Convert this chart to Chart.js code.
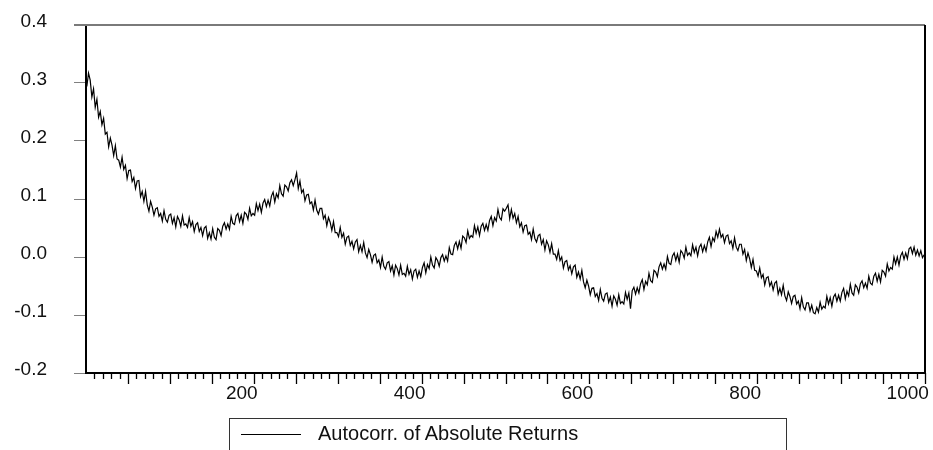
<!DOCTYPE html>
<html>
<head>
<meta charset="utf-8">
<title>Autocorr. of Absolute Returns</title>
<script src="https://cdn.jsdelivr.net/npm/chart.js@4.4.1/dist/chart.umd.min.js"></script>
<style>
    body { margin: 0; background: #fff; overflow: hidden; }
    #wrap { position: relative; width: 933px; height: 450px; }
    #legendBox {
        position: absolute; left: 229px; top: 418px; width: 558px; height: 60px;
        border: 1px solid #333; box-sizing: border-box;
        font: 20px "Liberation Sans", Arial, sans-serif; color: #111;
    }
    #legendBox .sample {
        position: absolute; left: 11px; top: 15px; width: 60px; border-top: 1px solid #000;
    }
    #legendBox .text { position: absolute; left: 88px; top: 3px; white-space: nowrap; }
</style>
</head>
<body>
<div id="wrap">
    <canvas id="acf" width="933" height="450"></canvas>
    <div id="legendBox"><span class="sample"></span><span class="text" id="legendText"></span></div>
</div>
<script>
const seriesName = 'Autocorr. of Absolute Returns';

// at every 2nd lag, starting at lag 1
const lagStep = 2;
const acfValues = [
    0.294, 0.317, 0.305, 0.276, 0.290, 0.258, 0.272, 0.241, 0.251, 0.228,
    0.239, 0.212, 0.215, 0.190, 0.205, 0.193, 0.175, 0.192, 0.169, 0.167,
    0.155, 0.172, 0.151, 0.158, 0.135, 0.149, 0.150, 0.130, 0.137, 0.118,
    0.131, 0.132, 0.104, 0.113, 0.096, 0.113, 0.090, 0.079, 0.096, 0.086,
    0.072, 0.083, 0.085, 0.070, 0.075, 0.062, 0.080, 0.065, 0.060, 0.072,
    0.074, 0.058, 0.068, 0.052, 0.070, 0.064, 0.053, 0.071, 0.055, 0.057,
    0.051, 0.068, 0.053, 0.061, 0.044, 0.056, 0.059, 0.044, 0.051, 0.037,
    0.050, 0.053, 0.032, 0.042, 0.031, 0.049, 0.034, 0.030, 0.049, 0.046,
    0.037, 0.053, 0.059, 0.048, 0.057, 0.048, 0.070, 0.058, 0.056, 0.071,
    0.075, 0.061, 0.072, 0.058, 0.077, 0.074, 0.065, 0.084, 0.071, 0.075,
    0.072, 0.092, 0.080, 0.091, 0.077, 0.093, 0.099, 0.087, 0.098, 0.088,
    0.105, 0.112, 0.095, 0.109, 0.102, 0.123, 0.109, 0.105, 0.124, 0.121,
    0.114, 0.128, 0.133, 0.123, 0.133, 0.145, 0.118, 0.131, 0.111, 0.116,
    0.097, 0.107, 0.108, 0.092, 0.095, 0.081, 0.098, 0.081, 0.074, 0.084,
    0.084, 0.066, 0.072, 0.054, 0.068, 0.060, 0.046, 0.061, 0.042, 0.042,
    0.035, 0.051, 0.034, 0.041, 0.022, 0.034, 0.036, 0.020, 0.027, 0.014,
    0.026, 0.030, 0.009, 0.020, 0.009, 0.025, 0.007, -0.001, 0.013, 0.004,
    -0.009, 0.003, 0.005, -0.010, -0.005, -0.018, 0.000, -0.016, -0.021, -0.010,
    -0.008, -0.024, -0.015, -0.031, -0.014, -0.020, -0.031, -0.014, -0.030, -0.028,
    -0.033, -0.016, -0.030, -0.022, -0.038, -0.024, -0.021, -0.035, -0.024, -0.034,
    -0.018, -0.010, -0.027, -0.013, -0.020, 0.000, -0.014, -0.019, -0.001, -0.006,
    -0.016, -0.001, 0.004, -0.007, 0.002, -0.007, 0.016, 0.005, 0.004, 0.020,
    0.026, 0.014, 0.027, 0.015, 0.036, 0.033, 0.025, 0.045, 0.032, 0.037,
    0.034, 0.054, 0.041, 0.052, 0.037, 0.053, 0.058, 0.046, 0.056, 0.046,
    0.063, 0.070, 0.054, 0.068, 0.062, 0.082, 0.068, 0.064, 0.083, 0.079,
    0.084, 0.090, 0.066, 0.082, 0.067, 0.075, 0.059, 0.070, 0.052, 0.059,
    0.043, 0.054, 0.055, 0.039, 0.043, 0.030, 0.048, 0.032, 0.026, 0.037,
    0.039, 0.022, 0.030, 0.012, 0.028, 0.021, 0.008, 0.023, 0.005, 0.005,
    -0.004, 0.011, -0.006, 0.000, -0.019, -0.008, -0.006, -0.022, -0.015, -0.029,
    -0.017, -0.014, -0.035, -0.026, -0.038, -0.023, -0.043, -0.053, -0.040, -0.050,
    -0.065, -0.054, -0.053, -0.068, -0.063, -0.075, -0.056, -0.071, -0.076, -0.064,
    -0.062, -0.078, -0.069, -0.085, -0.067, -0.073, -0.083, -0.065, -0.080, -0.077,
    -0.081, -0.061, -0.073, -0.062, -0.089, -0.058, -0.052, -0.064, -0.053, -0.062,
    -0.046, -0.039, -0.056, -0.042, -0.048, -0.028, -0.041, -0.044, -0.023, -0.026,
    -0.034, -0.017, -0.010, -0.021, -0.012, -0.021, 0.001, -0.011, -0.013, 0.002,
    0.007, -0.006, 0.005, -0.009, 0.011, 0.007, -0.002, 0.017, 0.003, 0.007,
    0.002, 0.021, 0.008, 0.017, 0.002, 0.017, 0.022, 0.009, 0.020, 0.010,
    0.026, 0.034, 0.018, 0.033, 0.027, 0.044, 0.034, 0.048, 0.034, 0.039,
    0.025, 0.036, 0.038, 0.023, 0.028, 0.015, 0.033, 0.017, 0.011, 0.022,
    0.022, 0.005, 0.013, -0.006, 0.007, -0.003, -0.018, -0.004, -0.023, -0.024,
    -0.033, -0.019, -0.036, -0.030, -0.048, -0.036, -0.034, -0.050, -0.043, -0.057,
    -0.045, -0.042, -0.064, -0.054, -0.065, -0.049, -0.067, -0.075, -0.060, -0.068,
    -0.080, -0.068, -0.066, -0.081, -0.076, -0.089, -0.070, -0.086, -0.091, -0.079,
    -0.079, -0.093, -0.083, -0.096, -0.098, -0.087, -0.095, -0.078, -0.090, -0.085,
    -0.088, -0.068, -0.081, -0.070, -0.085, -0.069, -0.064, -0.076, -0.066, -0.076,
    -0.061, -0.054, -0.072, -0.059, -0.067, -0.047, -0.062, -0.066, -0.048, -0.052,
    -0.062, -0.046, -0.041, -0.053, -0.045, -0.054, -0.033, -0.045, -0.048, -0.033,
    -0.028, -0.042, -0.030, -0.043, -0.023, -0.026, -0.033, -0.012, -0.024, -0.018,
    -0.021, 0.000, -0.012, 0.000, -0.014, 0.002, 0.008, -0.004, 0.007, -0.003,
    0.014, 0.017, 0.006, 0.017, 0.003, 0.012, 0.002, 0.011, -0.001, 0.004
];
const lags = acfValues.map((v, i) => 1 + i * lagStep);

const xLabelTicks = [200, 400, 600, 800, 1000];
const xRange = [0, 1000];
const yRange = [-0.2, 0.4];
const yStep = 0.1;

document.getElementById('legendText').textContent = seriesName;

// top/right frame and the small x-axis ticks (every 10 lags, longer every 50)
const frame = {
    id: 'frame',
    afterDraw(chart) {
        const { ctx, chartArea: a, scales } = chart;
        const xs = scales.x;
        ctx.save();
        ctx.strokeStyle = '#7a7a7a';
        ctx.lineWidth = 2;
        ctx.beginPath();
        ctx.moveTo(a.left - 12, a.top);
        ctx.lineTo(a.right, a.top);
        ctx.stroke();
        ctx.strokeStyle = '#000';
        ctx.beginPath();
        ctx.moveTo(a.right, a.top);
        ctx.lineTo(a.right, a.bottom);
        ctx.stroke();
        ctx.lineWidth = 1.3;
        ctx.beginPath();
        for (let v = 10; v <= xRange[1]; v += 10) {
            const px = Math.round(xs.getPixelForValue(v)) + 0.5;
            const len = v % 50 === 0 ? 11 : 6;
            ctx.moveTo(px, a.bottom);
            ctx.lineTo(px, a.bottom + len);
        }
        ctx.stroke();
        ctx.restore();
    }
};

Chart.defaults.font.family = '"Liberation Sans", Arial, sans-serif';
Chart.defaults.font.size = 19;
Chart.defaults.color = '#111';

new Chart(document.getElementById('acf'), {
    type: 'line',
    data: {
        datasets: [{
            label: seriesName,
            data: lags.map((lag, i) => ({ x: lag, y: acfValues[i] })),
            borderColor: '#000',
            borderWidth: 1.2,
            pointRadius: 0,
            tension: 0
        }]
    },
    options: {
        responsive: false,
        animation: false,
        layout: { padding: { left: 0, top: 25, right: 8, bottom: 42 } },
        plugins: { legend: { display: false }, tooltip: { enabled: false } },
        scales: {
            x: {
                type: 'linear',
                min: xRange[0],
                max: xRange[1],
                afterBuildTicks: s => { s.ticks = xLabelTicks.map(v => ({ value: v })); },
                ticks: {
                    autoSkip: false, maxRotation: 0, padding: 1, labelOffset: -12,
                    // the last label is pulled in so it stays inside the picture
                    callback: v => v === xRange[1] ? String(v) + '\u00a0\u00a0' : String(v)
                },
                grid: { display: false },
                border: { display: true, color: '#000', width: 2 },
                afterFit: s => { s.height = 35; s.paddingLeft = 0; s.paddingRight = 0; }
            },
            y: {
                min: yRange[0],
                max: yRange[1],
                ticks: {
                    stepSize: yStep,
                    padding: 27,
                    labelOffset: -3,
                    callback: v => v.toFixed(1)
                },
                grid: { drawOnChartArea: false, drawTicks: true, tickLength: 12, color: '#808080', lineWidth: 1 },
                border: { display: true, color: '#000', width: 2 },
                afterFit: s => { s.width = 86; s.paddingTop = 0; s.paddingBottom = 0; }
            }
        }
    },
    plugins: [frame]
});
</script>
</body>
</html>
